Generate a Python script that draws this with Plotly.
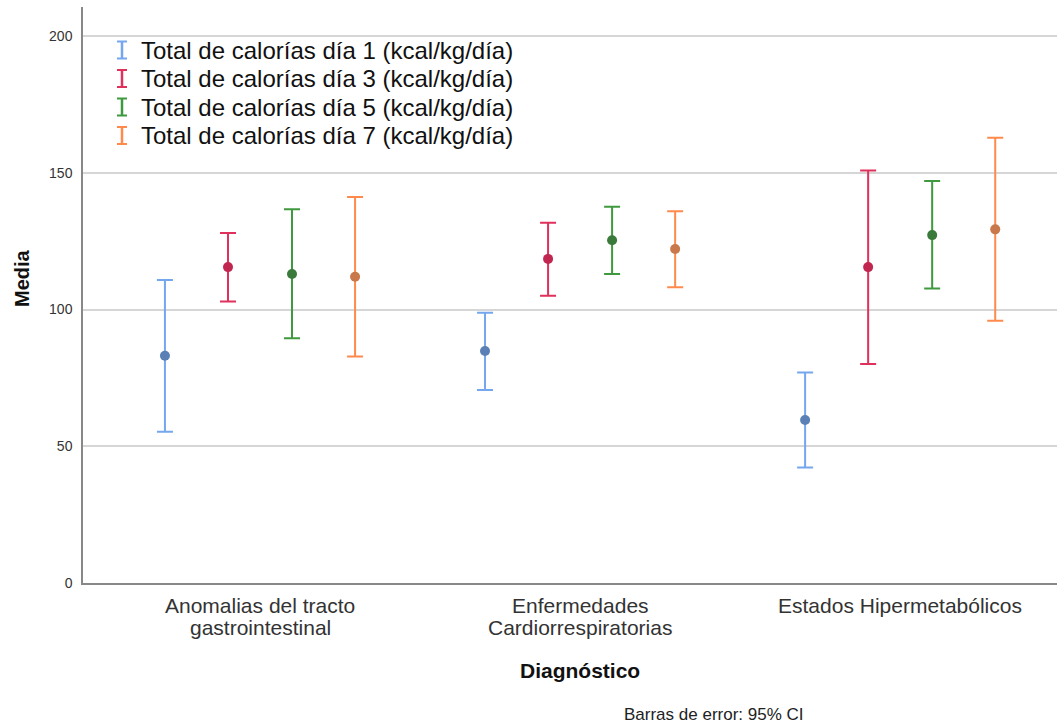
import plotly.graph_objects as go

categories = ["Anomalias del tracto<br>gastrointestinal",
              "Enfermedades<br>Cardiorrespiratorias",
              "Estados Hipermetabólicos"]
series_names = ["Total de calorías día 1 (kcal/kg/día)",
                "Total de calorías día 3 (kcal/kg/día)",
                "Total de calorías día 5 (kcal/kg/día)",
                "Total de calorías día 7 (kcal/kg/día)"]
means = [
    [83.1, 84.8, 59.6],
    [115.5, 118.5, 115.5],
    [113.0, 125.3, 127.2],
    [112.0, 122.1, 129.3],
]
upper = [
    [110.8, 98.8, 77.0],
    [128.0, 131.7, 150.8],
    [136.7, 137.6, 147.0],
    [141.1, 135.9, 162.8],
]
lower = [
    [55.3, 70.6, 42.2],
    [102.9, 105.0, 80.1],
    [89.5, 113.0, 107.7],
    [82.8, 108.1, 95.9],
]
y_ticks = [0, 50, 100, 150, 200]

bar_colors = ["#74a7ee", "#e0305c", "#3f9a3f", "#ff8a4c"]
dot_colors = ["#5a80b5", "#c02650", "#3a7a3a", "#c8784a"]
offsets = [-0.297, -0.1, 0.1, 0.297]

W, H = 1057, 724
ML, MR, MT, MB = 83, 0, 7, 141
PW, PH = W - ML - MR, H - MT - MB
FONT = "Liberation Sans, Arial, sans-serif"


def px_x(px):
    return (px - ML) / PW


def px_y(py):
    return (H - MB - py) / PH


fig = go.Figure()
for i, name in enumerate(series_names):
    xs = [j + offsets[i] for j in range(len(categories))]
    ep = [u - m for u, m in zip(upper[i], means[i])]
    em = [m - l for m, l in zip(means[i], lower[i])]
    fig.add_trace(go.Scatter(
        x=xs, y=means[i], mode="markers", name=name, showlegend=False,
        marker=dict(size=10, color=dot_colors[i]),
        error_y=dict(type="data", array=ep, arrayminus=em, symmetric=False,
                     color=bar_colors[i], thickness=2, width=8),
    ))

shapes = []
annotations = []
# legend background
shapes.append(dict(type="rect", xref="paper", yref="paper",
                   x0=px_x(93), x1=px_x(528), y0=px_y(180), y1=px_y(38),
                   fillcolor="white", line=dict(width=0), layer="between"))
leg_y = [50, 78.5, 107, 135.5]
for i, name in enumerate(series_names):
    cy = leg_y[i]
    cx = 122
    c = bar_colors[i]
    shapes.append(dict(type="line", xref="paper", yref="paper",
                       x0=px_x(cx), x1=px_x(cx), y0=px_y(cy - 8.5), y1=px_y(cy + 8.5),
                       line=dict(color=c, width=2.5)))
    for yy in (cy - 8.5, cy + 8.5):
        shapes.append(dict(type="line", xref="paper", yref="paper",
                           x0=px_x(cx - 5), x1=px_x(cx + 5), y0=px_y(yy), y1=px_y(yy),
                           line=dict(color=c, width=2)))
    annotations.append(dict(text=name, xref="paper", yref="paper",
                            x=px_x(139), y=px_y(cy), xanchor="left", yanchor="middle",
                            showarrow=False,
                            font=dict(family=FONT, size=24, color="#111")))

# category labels (each line placed separately for tighter line spacing)
line_y = [605, 627]
for j, cat in enumerate(categories):
    for k, part in enumerate(cat.split("<br>")):
        annotations.append(dict(text=part, xref="x", yref="paper",
                                x=j, y=px_y(line_y[k]), xanchor="center",
                                yanchor="middle", showarrow=False,
                                font=dict(family=FONT, size=21, color="#333")))

annotations.append(dict(text="<b>Diagnóstico</b>", xref="paper", yref="paper",
                        x=px_x(580), y=px_y(670), xanchor="center", yanchor="middle",
                        showarrow=False,
                        font=dict(family=FONT, size=21, color="#111")))
annotations.append(dict(text="<b>Media</b>", xref="paper", yref="paper",
                        x=px_x(22), y=px_y(278), xanchor="center", yanchor="middle",
                        textangle=-90, showarrow=False,
                        font=dict(family=FONT, size=20, color="#111")))
annotations.append(dict(text="Barras de error: 95% CI", xref="paper", yref="paper",
                        x=px_x(714), y=px_y(714), xanchor="center", yanchor="middle",
                        showarrow=False,
                        font=dict(family=FONT, size=17, color="#222")))

fig.update_layout(
    width=W, height=H,
    margin=dict(l=ML, r=MR, t=MT, b=MB),
    paper_bgcolor="white", plot_bgcolor="white",
    shapes=shapes, annotations=annotations,
    showlegend=False,
    xaxis=dict(range=[-0.553, 2.49], tickmode="array",
               tickvals=list(range(len(categories))), showticklabels=False,
               showgrid=False, zeroline=False, showline=True,
               linecolor="#888", linewidth=1.5, ticks=""),
    yaxis=dict(range=[0, (H - MB - MT) / 2.735], tickmode="array",
               tickvals=y_ticks, showgrid=True, gridcolor="#d6d6d6", gridwidth=2,
               zeroline=False, showline=True, linecolor="#888", linewidth=1.5,
               ticks="", ticklabelstandoff=6,
               tickfont=dict(family=FONT, size=14, color="#333")),
)

fig.write_html("out.html", config={"displayModeBar": False},
               post_script="document.body.style.margin='0';document.body.style.padding='0';")
